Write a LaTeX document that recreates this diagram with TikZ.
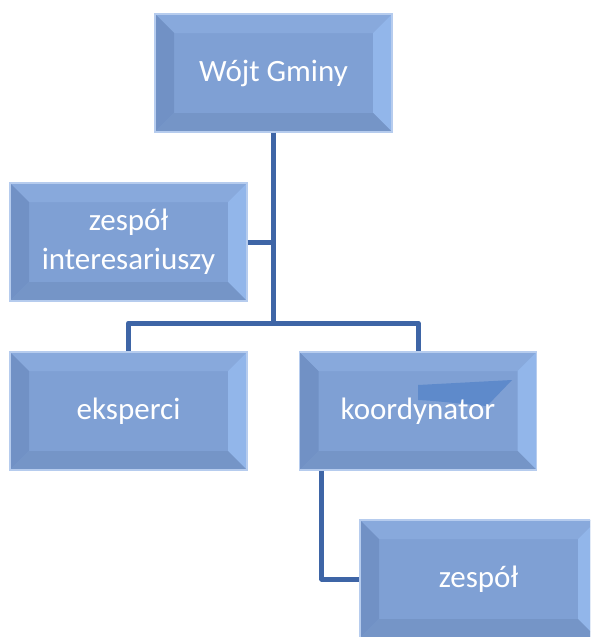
\documentclass[tikz,border=0pt]{standalone}
\usepackage{fontspec}
\setmainfont{Carlito}
\usetikzlibrary{positioning}
\definecolor{boxfill}{RGB}{127,160,212}
\definecolor{boxedge}{RGB}{182,204,238}
\definecolor{bevtop}{RGB}{136,169,220}
\definecolor{bevright}{RGB}{146,182,234}
\definecolor{bevleft}{RGB}{113,145,197}
\definecolor{bevbottom}{RGB}{117,149,199}
\definecolor{linkblue}{RGB}{62,101,166}
\definecolor{blotch}{RGB}{94,138,203}
\tikzset{
org_box/.style={rectangle, draw=boxedge, line width=1.2pt, fill=boxfill, text=white, minimum width=237pt, minimum height=118pt, align=center, inner sep=0pt, font=\fontsize{31}{39}\selectfont,
  path picture={
    \fill[bevtop] (path picture bounding box.north west) -- (path picture bounding box.north east) -- ([xshift=-19pt,yshift=-19pt]path picture bounding box.north east) -- ([xshift=19pt,yshift=-19pt]path picture bounding box.north west) -- cycle;
    \fill[bevright] (path picture bounding box.north east) -- (path picture bounding box.south east) -- ([xshift=-19pt,yshift=19pt]path picture bounding box.south east) -- ([xshift=-19pt,yshift=-19pt]path picture bounding box.north east) -- cycle;
    \fill[bevleft] (path picture bounding box.north west) -- (path picture bounding box.south west) -- ([xshift=19pt,yshift=19pt]path picture bounding box.south west) -- ([xshift=19pt,yshift=-19pt]path picture bounding box.north west) -- cycle;
    \fill[bevbottom] (path picture bounding box.south west) -- (path picture bounding box.south east) -- ([xshift=-19pt,yshift=19pt]path picture bounding box.south east) -- ([xshift=19pt,yshift=19pt]path picture bounding box.south west) -- cycle;
  }},
link/.style={draw=linkblue, line width=5pt, line join=round}
}

\begin{document}
\begin{tikzpicture}[x=1pt, y=-1pt]
    \useasboundingbox (0,0) rectangle (590,637);
    \clip (0,0) rectangle (590,637);
    \node[org_box] (wojt) at (273.5,73) {Wójt Gminy};
    \node[org_box] (interes) at (128.5,242) {zespół\\interesariuszy};
    \node[org_box] (eksperci) at (128.5,411) {eksperci};
    \node[org_box] (koord) at (418,411) {};
    \node[org_box] (zespol) at (478.5,579) {zespół};
    % odd dark patch on the coordinator box
    \fill[blotch] (418,385) -- (512,380) -- (487,406) .. controls (460,404) and (440,401) .. (418,400) -- cycle;
    \node[text=white, font=\fontsize{31}{39}\selectfont] (koord_text) at (koord.center) {koordynator};
    \coordinate (hub) at (273.5,323);
    \draw[link] (wojt.south) -- (hub);
    \draw[link] (interes.east) -- (interes.east -| hub);
    \draw[link] (hub) -| (eksperci.north);
    \draw[link] (hub) -| (koord.north);
    \draw[link] ([xshift=23pt]koord.south west) |- (zespol.west);
\end{tikzpicture}
\end{document}
